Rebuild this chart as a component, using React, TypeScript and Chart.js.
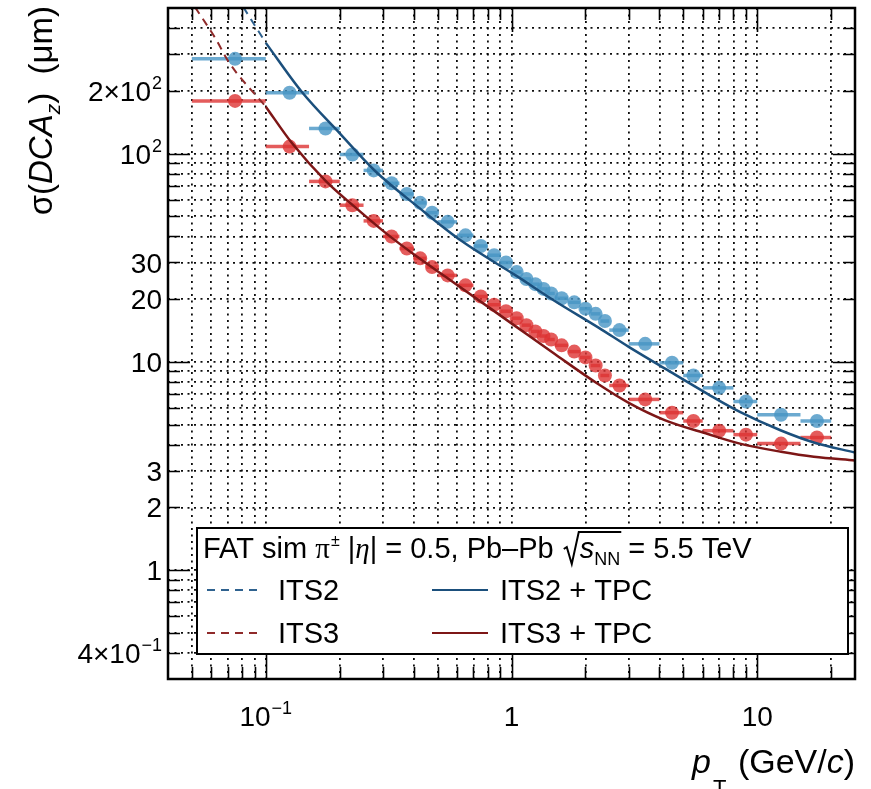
import React, { useEffect, useRef } from 'react';
import { Chart, registerables } from 'chart.js';

Chart.register(...registerables);

const SANS = '"Liberation Sans", Arial, Helvetica, sans-serif';
const SERIF = '"Liberation Serif", "DejaVu Serif", serif';

// ---------- data ----------
// pT bins (GeV/c)
const ptCenters = [0.075, 0.125, 0.175, 0.225, 0.275, 0.325, 0.375, 0.425, 0.475, 0.55, 0.65, 0.75, 0.85, 0.95, 1.05, 1.15, 1.25, 1.35, 1.45, 1.6, 1.8, 2.0, 2.2, 2.4, 2.75, 3.5, 4.5, 5.5, 7, 9, 12.5, 17.5];
const ptLow = [0.05, 0.1, 0.15, 0.2, 0.25, 0.3, 0.35, 0.4, 0.45, 0.5, 0.6, 0.7, 0.8, 0.9, 1.0, 1.1, 1.2, 1.3, 1.4, 1.5, 1.7, 1.9, 2.1, 2.3, 2.5, 3, 4, 5, 6, 8, 10, 15];
const ptHigh = [0.1, 0.15, 0.2, 0.25, 0.3, 0.35, 0.4, 0.45, 0.5, 0.6, 0.7, 0.8, 0.9, 1.0, 1.1, 1.2, 1.3, 1.4, 1.5, 1.7, 1.9, 2.1, 2.3, 2.5, 3, 4, 5, 6, 8, 10, 15, 20];
// simulated points sigma(DCA_z) (um)
const its2Points = [285, 196, 132, 99, 83, 72, 64, 58, 52, 47, 40.5, 36, 32.5, 30, 27, 25, 23.6, 22.4, 21.3, 20.2, 19.3, 18, 17, 15.7, 14.2, 12.2, 9.9, 8.6, 7.5, 6.45, 5.57, 5.2];
const its3Points = [179, 108, 73.5, 56.5, 47.5, 40, 35, 31.4, 28.5, 26, 23.3, 20.6, 18.8, 17.5, 16.2, 15.0, 14.0, 13.3, 12.8, 12.0, 11.2, 10.5, 9.6, 8.6, 7.7, 6.6, 5.7, 5.2, 4.67, 4.47, 4.05, 4.33];

// analytic curves
const its2TpcPt = [0.1, 0.14, 0.2, 0.28, 0.42, 0.627, 1.04, 1.5, 2.26, 3.0, 4.2, 6.3, 8.5, 12.5, 17, 25];
const its2TpcSigma = [340, 198, 125, 82, 55, 38, 26, 19.6, 14.6, 11.8, 9.3, 7.0, 5.75, 4.68, 4.1, 3.67];
const its3TpcPt = [0.1, 0.128, 0.176, 0.232, 0.308, 0.42, 0.555, 1.04, 1.5, 2.26, 3.0, 4.2, 6.3, 8.5, 12.5, 17, 25];
const its3TpcSigma = [168, 112, 73.5, 55, 41.5, 31.5, 25, 14.8, 10.9, 7.8, 6.35, 5.25, 4.5, 4.05, 3.7, 3.5, 3.36];
const its2Pt = [0.081, 0.1];
const its2Sigma = [505, 340];
const its3Pt = [0.0515, 0.0626, 0.0707, 0.1];
const its3Sigma = [505, 355, 275, 168];

// axes
const xMin = 0.04;
const xMax = 25;
const yMin = 0.31;
const yMax = 500;
const xTickValues = [0.05, 0.06, 0.07, 0.08, 0.09, 0.1, 0.2, 0.3, 0.4, 0.5, 0.6, 0.7, 0.8, 0.9, 1, 2, 3, 4, 5, 6, 7, 8, 9, 10, 20];
const xTickLabels = ['', '', '', '', '', '10^-1', '', '', '', '', '', '', '', '', '1', '', '', '', '', '', '', '', '', '10', ''];
const yTickValues = [0.4, 0.5, 0.6, 0.7, 0.8, 0.9, 1, 2, 3, 4, 5, 6, 7, 8, 9, 10, 20, 30, 40, 50, 60, 70, 80, 90, 100, 200, 300, 400];
const yTickLabels = ['4×10^-1', '', '', '', '', '', '1', '2', '3', '', '', '', '', '', '', '10', '20', '30', '', '', '', '', '', '', '10^2', '2×10^2', '', ''];

// ---------- colours ----------
const C_ITS2_LINE = '#1b4f7c';
const C_ITS3_LINE = '#7d1616';
const C_ITS2_DASH = '#2f628f';
const C_ITS3_DASH = '#8f2a2a';
const C_ITS2_PT = 'rgba(71,149,196,0.8)';
const C_ITS3_PT = 'rgba(221,51,51,0.8)';

type Seg = { t: string; size: number; italic?: boolean; dy?: number; dx?: number; font?: string };

function segFont(s: Seg) {
  return `${s.italic ? 'italic ' : ''}${s.size}px ${s.font || SANS}`;
}
function measureSegs(ctx: CanvasRenderingContext2D, segs: Seg[]) {
  let w = 0;
  for (const s of segs) {
    ctx.font = segFont(s);
    w += ctx.measureText(s.t).width + (s.dx || 0);
  }
  return w;
}
function drawSegs(ctx: CanvasRenderingContext2D, segs: Seg[], x: number, y: number, align: 'left' | 'right' | 'center') {
  const w = measureSegs(ctx, segs);
  let cx = align === 'right' ? x - w : align === 'center' ? x - w / 2 : x;
  ctx.textAlign = 'left';
  ctx.textBaseline = 'alphabetic';
  const pos: { x: number; w: number }[] = [];
  for (const s of segs) {
    ctx.font = segFont(s);
    cx += s.dx || 0;
    ctx.fillText(s.t, cx, y + (s.dy || 0));
    const mw = ctx.measureText(s.t).width;
    pos.push({ x: cx, w: mw });
    cx += mw;
  }
  return pos;
}
function labelSegs(label: string, size: number): Seg[] {
  const i = label.indexOf('^');
  if (i < 0) return [{ t: label, size }];
  return [
    { t: label.slice(0, i), size },
    { t: label.slice(i + 1).replace('-', '\u2212'), size: Math.round(size * 0.64), dy: -size * 0.42, dx: 1 },
  ];
}
const isDecade = (v: number) => Math.abs(Math.log10(v) - Math.round(Math.log10(v))) < 1e-6;

const zip = (xs: number[], ys: number[]) => xs.map((x, i) => ({ x, y: ys[i] }));

const decorPlugin = {
  id: 'decor',
  beforeDatasetsDraw(chart: any) {
    const { ctx, chartArea: a } = chart;
    const xs = chart.scales.x;
    const ys = chart.scales.y;
    ctx.save();
    ctx.beginPath();
    ctx.rect(a.left, a.top, a.right - a.left, a.bottom - a.top);
    ctx.clip();
    ctx.lineWidth = 3.5;
    const series: [number[], string][] = [
      [its2Points, C_ITS2_PT],
      [its3Points, C_ITS3_PT],
    ];
    for (const [vals, col] of series) {
      ctx.strokeStyle = col;
      for (let i = 0; i < vals.length; i++) {
        const y = ys.getPixelForValue(vals[i]);
        ctx.beginPath();
        ctx.moveTo(xs.getPixelForValue(ptLow[i]), y);
        ctx.lineTo(xs.getPixelForValue(ptHigh[i]), y);
        ctx.stroke();
      }
    }
    ctx.restore();
  },
  afterDatasetsDraw(chart: any) {
    const { ctx, chartArea: a } = chart;
    const xs = chart.scales.x;
    const ys = chart.scales.y;
    ctx.save();
    // inner ticks
    ctx.strokeStyle = '#000';
    ctx.lineWidth = 1.6;
    ctx.beginPath();
    for (const v of xTickValues) {
      const px = Math.round(xs.getPixelForValue(v)) + 0.5;
      const len = isDecade(v) ? 24 : 12;
      ctx.moveTo(px, a.bottom);
      ctx.lineTo(px, a.bottom - len);
      ctx.moveTo(px, a.top);
      ctx.lineTo(px, a.top + len);
    }
    for (const v of yTickValues) {
      const py = Math.round(ys.getPixelForValue(v)) + 0.5;
      const len = isDecade(v) ? 22 : 12;
      ctx.moveTo(a.left, py);
      ctx.lineTo(a.left + len, py);
      ctx.moveTo(a.right, py);
      ctx.lineTo(a.right - len, py);
    }
    ctx.stroke();
    // frame
    ctx.lineWidth = 2.5;
    ctx.strokeRect(a.left, a.top, a.right - a.left, a.bottom - a.top);

    // tick labels
    ctx.fillStyle = '#000';
    const TF = 28;
    xTickValues.forEach((v, i) => {
      const lab = xTickLabels[i];
      if (!lab) return;
      drawSegs(ctx, labelSegs(lab, TF), xs.getPixelForValue(v), 726, 'center');
    });
    yTickValues.forEach((v, i) => {
      const lab = yTickLabels[i];
      if (!lab) return;
      drawSegs(ctx, labelSegs(lab, TF), a.left - 6, ys.getPixelForValue(v) + TF * 0.36, 'right');
    });

    // x title
    const XT = 34;
    drawSegs(
      ctx,
      [
        { t: 'p', size: XT, italic: true },
        { t: 'T', size: 22, dy: 22, dx: 2 },
        { t: ' (GeV/', size: XT, dx: 2 },
        { t: 'c', size: XT, italic: true },
        { t: ')', size: XT },
      ],
      855,
      773,
      'right'
    );

    // y title (rotated)
    ctx.save();
    ctx.translate(52, 6);
    ctx.rotate(-Math.PI / 2);
    const YT = 33;
    drawSegs(
      ctx,
      [
        { t: 'σ(', size: YT },
        { t: 'DCA', size: YT, italic: true },
        { t: 'z', size: 21, dy: 8, italic: true },
        { t: ')  (μm)', size: YT },
      ],
      0,
      0,
      'right'
    );
    ctx.restore();

    // legend
    const L = { x1: 197, y1: 528, x2: 848, y2: 654 };
    ctx.fillStyle = '#fff';
    ctx.fillRect(L.x1, L.y1, L.x2 - L.x1, L.y2 - L.y1);
    ctx.strokeStyle = '#000';
    ctx.lineWidth = 2;
    ctx.strokeRect(L.x1, L.y1, L.x2 - L.x1, L.y2 - L.y1);
    ctx.fillStyle = '#000';
    const LF = 29;
    const base = 558;
    const pos = drawSegs(
      ctx,
      [
        { t: 'FAT sim ', size: LF },
        { t: 'π', size: LF, font: SERIF },
        { t: '±', size: 16, dy: -12, dx: 1 },
        { t: ' |', size: LF },
        { t: 'η', size: LF, italic: true, font: SERIF },
        { t: '| = 0.5, Pb–Pb ', size: LF },
        { t: '', size: LF, dx: 18 },
        { t: 's', size: LF, italic: true },
        { t: 'NN', size: 18, dy: 7 },
        { t: ' = 5.5 TeV', size: LF },
      ],
      203,
      base,
      'left'
    );
    // radical sign
    const rx = pos[6].x - 16;
    const endX = pos[8].x + pos[8].w + 1;
    const topY = base - 26;
    ctx.lineWidth = 2;
    ctx.beginPath();
    ctx.moveTo(rx, base - 9);
    ctx.lineTo(rx + 3, base - 11);
    ctx.lineTo(rx + 8, base + 6);
    ctx.lineTo(rx + 15, topY);
    ctx.lineTo(endX, topY);
    ctx.stroke();

    const rows = [
      { y: 590, dash: C_ITS2_DASH, line: C_ITS2_LINE, a: 'ITS2', b: 'ITS2 + TPC' },
      { y: 633, dash: C_ITS3_DASH, line: C_ITS3_LINE, a: 'ITS3', b: 'ITS3 + TPC' },
    ];
    for (const r of rows) {
      ctx.lineWidth = 2;
      ctx.strokeStyle = r.dash;
      ctx.setLineDash([8, 6]);
      ctx.beginPath();
      ctx.moveTo(207, r.y);
      ctx.lineTo(262, r.y);
      ctx.stroke();
      ctx.setLineDash([]);
      ctx.strokeStyle = r.line;
      ctx.beginPath();
      ctx.moveTo(432, r.y);
      ctx.lineTo(488, r.y);
      ctx.stroke();
      ctx.fillStyle = '#000';
      drawSegs(ctx, [{ t: r.a, size: LF }], 278, r.y + 10, 'left');
      drawSegs(ctx, [{ t: r.b, size: LF }], 500, r.y + 10, 'left');
    }
    ctx.restore();
  },
};

export default function App() {
  const ref = useRef<HTMLCanvasElement | null>(null);
  useEffect(() => {
    if (!ref.current) return;
    const gridOpts = { color: 'rgba(0,0,0,0.95)', lineWidth: 1.8, drawTicks: false };
    const border = { display: false, dash: [2, 4.5] };
    const chart = new Chart(ref.current, {
      type: 'scatter',
      data: {
        datasets: [
          { label: 'ITS2 + TPC', data: zip(its2TpcPt, its2TpcSigma), showLine: true, borderColor: C_ITS2_LINE, borderWidth: 2.5, pointRadius: 0, cubicInterpolationMode: 'monotone' },
          { label: 'ITS3 + TPC', data: zip(its3TpcPt, its3TpcSigma), showLine: true, borderColor: C_ITS3_LINE, borderWidth: 2.5, pointRadius: 0, cubicInterpolationMode: 'monotone' },
          { label: 'ITS2', data: zip(its2Pt, its2Sigma), showLine: true, borderColor: C_ITS2_DASH, borderWidth: 2, borderDash: [8, 6], pointRadius: 0 },
          { label: 'ITS3', data: zip(its3Pt, its3Sigma), showLine: true, borderColor: C_ITS3_DASH, borderWidth: 2, borderDash: [8, 6], pointRadius: 0, cubicInterpolationMode: 'monotone' },
          { label: 'ITS2 sim', data: zip(ptCenters, its2Points), pointRadius: 7, pointBackgroundColor: C_ITS2_PT, pointBorderWidth: 0, backgroundColor: C_ITS2_PT, borderWidth: 0 },
          { label: 'ITS3 sim', data: zip(ptCenters, its3Points), pointRadius: 7, pointBackgroundColor: C_ITS3_PT, pointBorderWidth: 0, backgroundColor: C_ITS3_PT, borderWidth: 0 },
        ] as any,
      },
      options: {
        responsive: false,
        devicePixelRatio: 1,
        animation: false,
        layout: { padding: { left: 0, top: 8, right: 16, bottom: 0 } },
        plugins: { legend: { display: false }, tooltip: { enabled: false } },
        scales: {
          x: {
            type: 'logarithmic',
            min: xMin,
            max: xMax,
            afterBuildTicks: (s: any) => {
              s.ticks = xTickValues.map((v) => ({ value: v }));
            },
            afterFit: (s: any) => {
              s.height = 110;
              s.paddingLeft = 0;
              s.paddingRight = 0;
              s.paddingTop = 0;
              s.paddingBottom = 0;
            },
            ticks: { display: false },
            grid: gridOpts,
            border,
          },
          y: {
            type: 'logarithmic',
            min: yMin,
            max: yMax,
            afterBuildTicks: (s: any) => {
              s.ticks = yTickValues.map((v) => ({ value: v }));
            },
            afterFit: (s: any) => {
              s.width = 168;
              s.paddingLeft = 0;
              s.paddingRight = 0;
              s.paddingTop = 0;
              s.paddingBottom = 0;
            },
            ticks: { display: false },
            grid: gridOpts,
            border,
          },
        },
      } as any,
      plugins: [decorPlugin],
    });
    return () => chart.destroy();
  }, []);
  return (
    <div style={{ position: 'absolute', left: 0, top: 0, width: 871, height: 789, background: '#fff' }}>
      <canvas ref={ref} width={871} height={789} style={{ display: 'block' }} />
    </div>
  );
}
